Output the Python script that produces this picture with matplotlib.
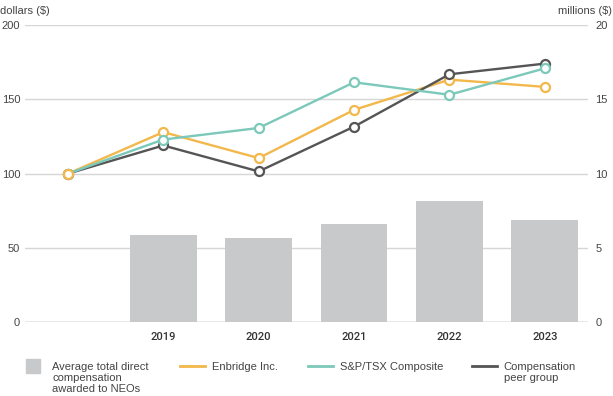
"""Enbridge TSR vs NEO compensation chart."""

import matplotlib.pyplot as plt  # type: ignore
from matplotlib.lines import Line2D  # type: ignore

plt.rcParams["font.family"] = ["Liberation Sans", "DejaVu Sans"]

years = ["", "2019", "2020", "2021", "2022", "2023"]
bar_years = ["2019", "2020", "2021", "2022", "2023"]
avg_comp = [5.83, 5.65, 6.58, 8.18, 6.85]
enbridge = [100, 128, 110.5, 143, 163.4, 158.5]
sp_tsx = [100, 123, 130.8, 161.6, 153.2, 171]
peer_group = [100, 119, 101.5, 131.7, 167, 174.2]

GREY_BAR = "#c8c9ca"
ORANGE = "#f2b84b"
TEAL = "#7cc9ba"
DARK = "#555555"
TEXT = "#444444"
FS = 8

fig = plt.figure(figsize=(6.13, 3.96), dpi=100)
ax = fig.add_axes([0.0408, 0.187, 0.918, 0.749])
ax2 = ax.twinx()

x_all = list(range(len(years)))
x_bars = [years.index(y) for y in bar_years]

# bars on the millions axis (drawn underneath)
ax.bar(x_bars, avg_comp, width=0.70, color=GREY_BAR, zorder=2)
ax.set_ylim(0, 20)
ax.set_yticks([0, 5, 10, 15, 20])
ax.yaxis.tick_right()
ax.grid(axis="y", color="#d6d6d6", linewidth=1.0, zorder=0)
ax.set_axisbelow(True)
ax.tick_params(axis="y", length=0, pad=5.5, labelsize=FS, labelcolor=TEXT)
ax.axhline(0, color="#b0b0b0", linewidth=1.0, zorder=1)

# index lines on the dollars axis
for vals, col in [(enbridge, ORANGE), (peer_group, DARK), (sp_tsx, TEAL)]:
    ax2.plot(x_all, vals, color=col, linewidth=1.7, marker="o", markersize=6.5,
             markerfacecolor="white", markeredgecolor=col, markeredgewidth=1.6,
             zorder=3, clip_on=False)
# keep enbridge start marker on top
ax2.plot(x_all[:1], enbridge[:1], color=ORANGE, marker="o", markersize=6.5,
         markerfacecolor="white", markeredgewidth=1.6, zorder=4)
ax2.set_ylim(0, 200)
ax2.set_yticks([0, 50, 100, 150, 200])
ax2.yaxis.tick_left()
ax2.tick_params(axis="y", length=0, pad=3.5, labelsize=FS, labelcolor=TEXT)

ax.set_xlim(-0.45, 5.45)
ax.set_xticks(x_all)
ax.set_xticklabels(years)
ax.tick_params(axis="x", length=0, pad=7, labelsize=FS, labelcolor="#333333")
for lbl in ax.get_xticklabels():
    lbl.set_family(["Roboto", "DejaVu Sans"])
    lbl.set_fontweight("medium")

for a in (ax, ax2):
    for s in a.spines.values():
        s.set_visible(False)

fig.text(0.0, 0.986, "dollars ($)", fontsize=FS, color=TEXT, va="top", ha="left")
fig.text(0.999, 0.986, "millions ($)", fontsize=FS, color=TEXT, va="top", ha="right")

# legend: one entry per box so each can sit where the reference has it
entries = [
    (Line2D([], [], marker="s", markersize=10, color=GREY_BAR, linestyle="none"),
     "Average total direct\ncompensation\nawarded to NEOs", 0.0335),
    (Line2D([], [], color=ORANGE, linewidth=2), "Enbridge Inc.", 0.2936),
    (Line2D([], [], color=TEAL, linewidth=2), "S&P/TSX Composite", 0.5024),
    (Line2D([], [], color=DARK, linewidth=2), "Compensation\npeer group", 0.77),
]
for handle, label, x0 in entries:
    leg = fig.legend([handle], [label], loc="upper left",
                     bbox_to_anchor=(x0, 0.086), frameon=False, fontsize=FS,
                     handlelength=2.25, handletextpad=0.6, borderaxespad=0,
                     borderpad=0)
    for t in leg.get_texts():
        t.set_color(TEXT)
        t.set_linespacing(1.1)
    # put the handle level with the first text line
    for col in leg._legend_handle_box.get_children():
        for row in col.get_children():
            row.align = "top"

fig.savefig("out.png", dpi=100)
